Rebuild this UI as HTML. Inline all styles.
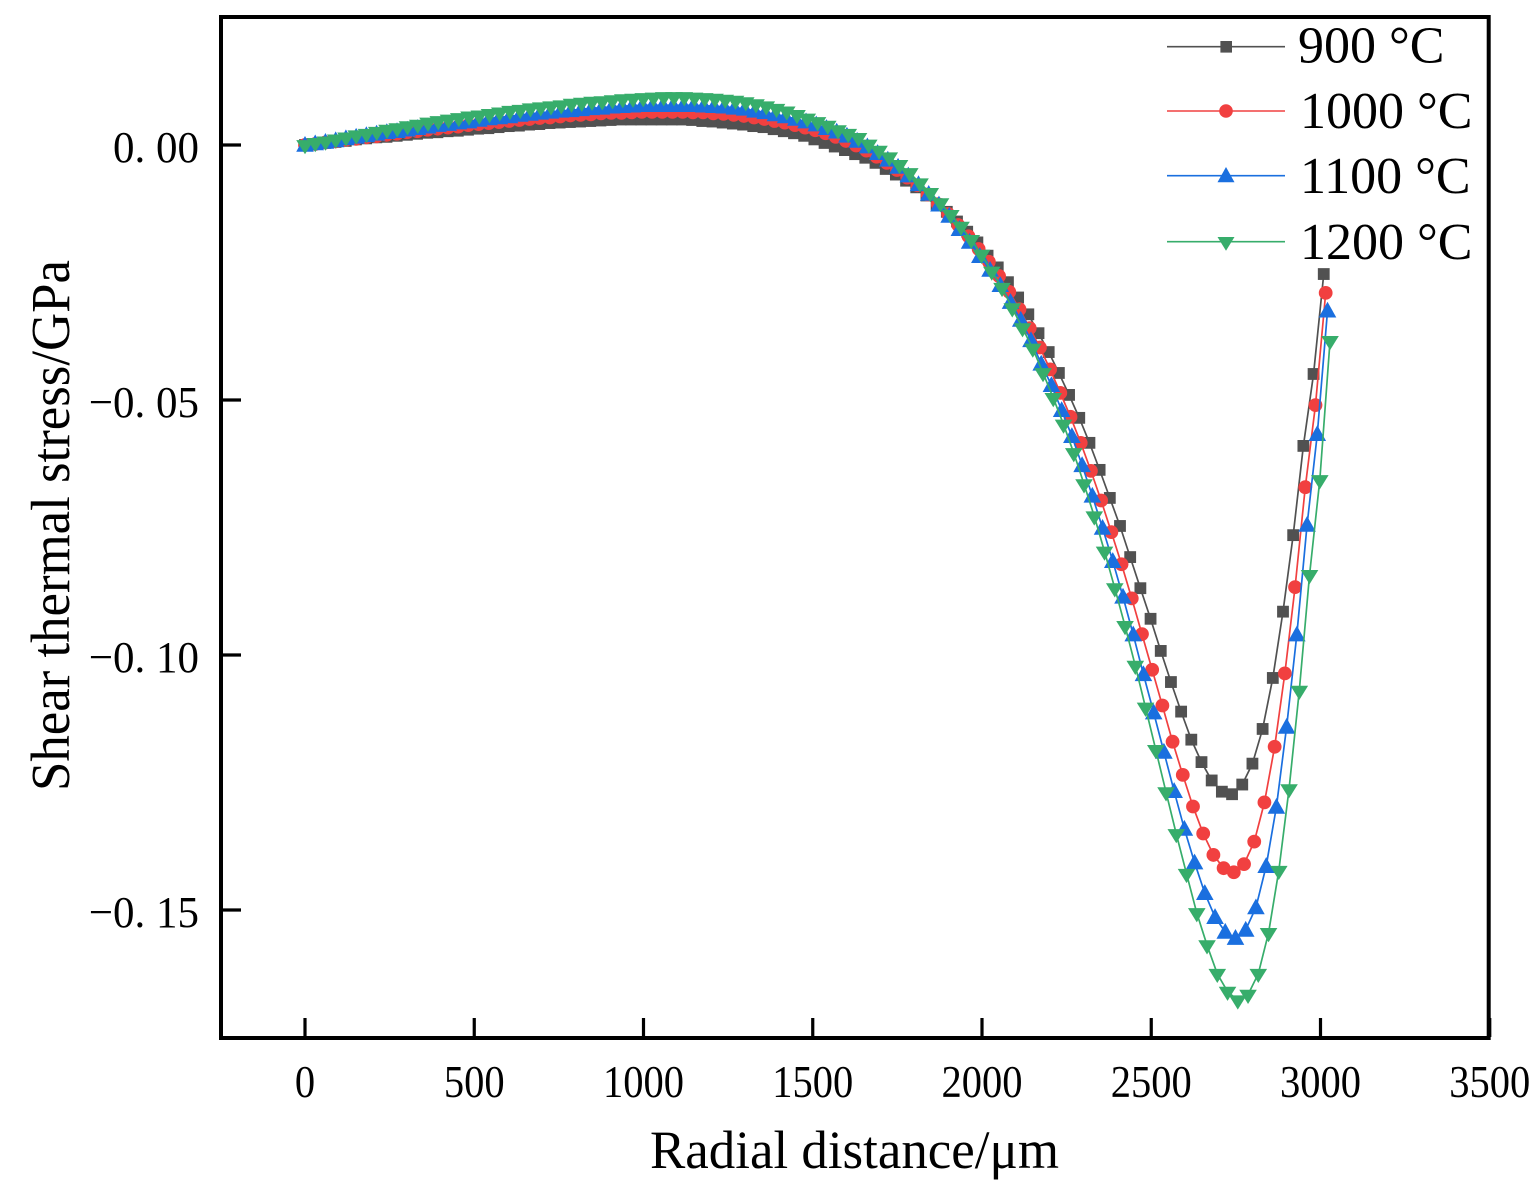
<!DOCTYPE html>
<html lang="en">
<head>
<meta charset="utf-8">
<title>Shear thermal stress vs radial distance</title>
<style>
html,body{margin:0;padding:0;background:#fff;}
svg{display:block;}
text{font-family:"Liberation Serif","Noto Serif CJK SC",serif;fill:#000;}
</style>
</head>
<body>
<svg id="chart" xmlns="http://www.w3.org/2000/svg" width="1537" height="1196" viewBox="0 0 1537 1196">
  <rect x="0" y="0" width="1537" height="1196" fill="#fff"/>
  <g id="series-layer"></g>
  <rect x="221" y="17" width="1267.7" height="1021" fill="none" stroke="#000" stroke-width="4"/>
  <g id="axis-layer"></g>
  <text x="650" y="1168" font-size="54" textLength="409" lengthAdjust="spacingAndGlyphs">Radial distance/μm</text>
  <text transform="translate(69,791) rotate(-90)" x="0" y="0" font-size="55" textLength="531" lengthAdjust="spacingAndGlyphs">Shear thermal stress/GPa</text>
  <g id="legend-layer">
    <g>
      <line x1="1167" x2="1285" y1="46.7" y2="46.7" stroke="#515151" stroke-width="1.6"/>
      <rect x="1220.4" y="41" width="11.6" height="11.6" fill="#515151"/>
      <text x="1298" y="62.7" font-size="52">900 °C</text>
    </g>
    <g>
      <line x1="1167" x2="1285" y1="111" y2="111" stroke="#F14040" stroke-width="1.6"/>
      <circle cx="1226" cy="111" r="6.8" fill="#F14040"/>
      <text x="1300" y="128" font-size="52">1000 °C</text>
    </g>
    <g>
      <line x1="1167" x2="1285" y1="175.7" y2="175.7" stroke="#1A6FDF" stroke-width="1.6"/>
      <polygon points="1226,167 1234.5,182.3 1217.5,182.3" fill="#1A6FDF"/>
      <text x="1300" y="193" font-size="52">1100 °C</text>
    </g>
    <g>
      <line x1="1167" x2="1285" y1="241.7" y2="241.7" stroke="#37AD6B" stroke-width="1.6"/>
      <polygon points="1217.5,237 1234.5,237 1226,250.7" fill="#37AD6B"/>
      <text x="1300" y="259" font-size="52">1200 °C</text>
    </g>
  </g>
</svg>
<script>
const xTicks = [0, 500, 1000, 1500, 2000, 2500, 3000, 3500];
const xTickLabels = ["0", "500", "1000", "1500", "2000", "2500", "3000", "3500"];
const yTicks = [0, -0.05, -0.10, -0.15];
const yTickLabels = ["0. 00", "\u22120. 05", "\u22120. 10", "\u22120. 15"];

const radialNominal = [0,30,60,90,120,150,180,210,240,270,300,330,360,390,420,450,480,510,540,570,600,630,660,690,720,750,780,810,840,870,900,930,960,990,1020,1050,1080,1110,1140,1170,1200,1230,1260,1290,1320,1350,1380,1410,1440,1470,1500,1530,1560,1590,1620,1650,1680,1710,1740,1770,1800,1830,1860,1890,1920,1950,1980,2010,2040,2070,2100,2130,2160,2190,2220,2250,2280,2310,2340,2370,2400,2430,2460,2490,2520,2550,2580,2610,2640,2670,2700,2730,2760,2790,2820,2850,2880,2910,2940,2970,3000];

const stretch900 = 1.0032;
const stretch1000 = 1.0051;
const stretch1100 = 1.0069;
const stretch1200 = 1.0094;

const stress900 = [0,0.0002,0.0004,0.0006,0.0008,0.0011,0.0013,0.0015,0.0016,0.0018,0.0020,0.0022,0.0024,0.0025,0.0027,0.0028,0.0030,0.0032,0.0033,0.0035,0.0037,0.0038,0.0040,0.0041,0.0043,0.0044,0.0045,0.0046,0.0047,0.0048,0.0049,0.0050,0.0050,0.0050,0.0050,0.0050,0.0050,0.0050,0.0049,0.0047,0.0046,0.0044,0.0042,0.0040,0.0037,0.0035,0.0031,0.0027,0.0023,0.0018,0.0011,0.0004,-0.0003,-0.0010,-0.0018,-0.0025,-0.0035,-0.0047,-0.0058,-0.0070,-0.0083,-0.0099,-0.0116,-0.0131,-0.0150,-0.0170,-0.0191,-0.0217,-0.0240,-0.0269,-0.0299,-0.0332,-0.0369,-0.0406,-0.0447,-0.0490,-0.0535,-0.0584,-0.0637,-0.0692,-0.0747,-0.0808,-0.0869,-0.0929,-0.0992,-0.1053,-0.1111,-0.1166,-0.1210,-0.1246,-0.1268,-0.1273,-0.1254,-0.1213,-0.1145,-0.1045,-0.0915,-0.0765,-0.0590,-0.0449,-0.0253];

const stress1000 = [0,0.0002,0.0005,0.0007,0.0010,0.0012,0.0015,0.0017,0.0020,0.0022,0.0025,0.0027,0.0030,0.0032,0.0034,0.0036,0.0039,0.0041,0.0043,0.0045,0.0047,0.0049,0.0051,0.0053,0.0054,0.0056,0.0058,0.0059,0.0060,0.0062,0.0063,0.0063,0.0064,0.0065,0.0065,0.0065,0.0065,0.0065,0.0064,0.0064,0.0062,0.0061,0.0059,0.0057,0.0054,0.0051,0.0047,0.0044,0.0039,0.0034,0.0029,0.0023,0.0016,0.0008,-0.0001,-0.0011,-0.0023,-0.0035,-0.0049,-0.0064,-0.0079,-0.0097,-0.0116,-0.0135,-0.0157,-0.0179,-0.0204,-0.0229,-0.0257,-0.0288,-0.0322,-0.0359,-0.0397,-0.0440,-0.0486,-0.0533,-0.0584,-0.0639,-0.0697,-0.0759,-0.0822,-0.0889,-0.0959,-0.1029,-0.1099,-0.1170,-0.1235,-0.1297,-0.1350,-0.1392,-0.1418,-0.1426,-0.1410,-0.1366,-0.1289,-0.1180,-0.1036,-0.0867,-0.0671,-0.0510,-0.0290];

const stress1100 = [0,0.0003,0.0006,0.0009,0.0013,0.0016,0.0019,0.0022,0.0025,0.0027,0.0030,0.0033,0.0036,0.0039,0.0041,0.0044,0.0046,0.0049,0.0052,0.0054,0.0056,0.0059,0.0061,0.0063,0.0065,0.0067,0.0068,0.0070,0.0072,0.0073,0.0075,0.0076,0.0077,0.0078,0.0078,0.0078,0.0078,0.0078,0.0078,0.0077,0.0076,0.0075,0.0073,0.0071,0.0067,0.0064,0.0060,0.0056,0.0051,0.0046,0.0040,0.0033,0.0026,0.0018,0.0008,-0.0003,-0.0016,-0.0029,-0.0043,-0.0060,-0.0077,-0.0096,-0.0117,-0.0139,-0.0165,-0.0190,-0.0218,-0.0245,-0.0275,-0.0308,-0.0343,-0.0383,-0.0429,-0.0471,-0.0520,-0.0571,-0.0628,-0.0688,-0.0751,-0.0816,-0.0886,-0.0960,-0.1038,-0.1113,-0.1190,-0.1267,-0.1341,-0.1407,-0.1467,-0.1514,-0.1543,-0.1555,-0.1539,-0.1495,-0.1414,-0.1298,-0.1141,-0.0960,-0.0745,-0.0567,-0.0325];

const stress1200 = [0,0.0004,0.0007,0.0011,0.0015,0.0019,0.0022,0.0026,0.0030,0.0033,0.0037,0.0040,0.0044,0.0047,0.0050,0.0053,0.0056,0.0058,0.0061,0.0064,0.0067,0.0069,0.0072,0.0074,0.0076,0.0078,0.0081,0.0083,0.0085,0.0086,0.0088,0.0090,0.0091,0.0092,0.0093,0.0094,0.0094,0.0094,0.0093,0.0092,0.0091,0.0089,0.0087,0.0084,0.0080,0.0076,0.0071,0.0066,0.0059,0.0052,0.0045,0.0038,0.0029,0.0022,0.0014,0.0001,-0.0011,-0.0024,-0.0039,-0.0055,-0.0075,-0.0094,-0.0114,-0.0137,-0.0160,-0.0186,-0.0215,-0.0248,-0.0280,-0.0320,-0.0359,-0.0399,-0.0447,-0.0496,-0.0548,-0.0604,-0.0665,-0.0728,-0.0797,-0.0869,-0.0943,-0.1021,-0.1103,-0.1186,-0.1269,-0.1351,-0.1429,-0.1506,-0.1569,-0.1625,-0.1660,-0.1677,-0.1666,-0.1625,-0.1545,-0.1423,-0.1263,-0.1070,-0.0843,-0.0657,-0.0384];

const SVGNS = "http://www.w3.org/2000/svg";
function xScale(v) { return 305 + v * 0.3385; }
function yScale(v) { return 145 - v * 5100; }
function make(tag, parent) {
  const el = document.createElementNS(SVGNS, tag);
  parent.appendChild(el);
  return el;
}
function condense(textEl, factor) {
  textEl.setAttribute("textLength", (textEl.getComputedTextLength() * factor).toFixed(2));
  textEl.setAttribute("lengthAdjust", "spacingAndGlyphs");
}

const axisLayer = document.getElementById("axis-layer");
xTicks.forEach(function (v, i) {
  const px = xScale(v);
  const t = make("line", axisLayer);
  
  
  t.setAttribute("x1", px);
  t.setAttribute("x2", px);
  t.setAttribute("y1", 1018);
  t.setAttribute("y2", 1037);
  t.setAttribute("stroke", "#000");
  t.setAttribute("stroke-width", "3.2");
  const l = make("text", axisLayer);
  
  
  l.setAttribute("x", px);
  l.setAttribute("y", 1097);
  l.setAttribute("font-size", "45");
  l.setAttribute("text-anchor", "middle");
  l.textContent = xTickLabels[i];
  condense(l, 0.9);
});
yTicks.forEach(function (v, i) {
  const py = yScale(v);
  const t = make("line", axisLayer);
  
  
  t.setAttribute("x1", 222);
  t.setAttribute("x2", 241);
  t.setAttribute("y1", py);
  t.setAttribute("y2", py);
  t.setAttribute("stroke", "#000");
  t.setAttribute("stroke-width", "3.2");
  const l = make("text", axisLayer);
  
  
  l.setAttribute("x", 199);
  l.setAttribute("y", py + 17);
  l.setAttribute("font-size", "44.5");
  l.setAttribute("text-anchor", "end");
  l.setAttribute("xml:space", "preserve");
  l.style.whiteSpace = "pre";
  l.textContent = yTickLabels[i];
  condense(l, 0.966);
});

function drawMarker(kind, cx, cy, color, parent) {
  let m;
  if (kind === "square") {
    m = make("rect", parent);
    m.setAttribute("x", cx - 5.9);
    m.setAttribute("y", cy - 5.9);
    m.setAttribute("width", 11.8);
    m.setAttribute("height", 11.8);
  } else if (kind === "circle") {
    m = make("circle", parent);
    m.setAttribute("cx", cx);
    m.setAttribute("cy", cy);
    m.setAttribute("r", 6.9);
  } else if (kind === "up") {
    m = make("polygon", parent);
    m.setAttribute("points", cx + "," + (cy - 9) + " " + (cx + 8.8) + "," + (cy + 6.8) + " " + (cx - 8.8) + "," + (cy + 6.8));
  } else {
    m = make("polygon", parent);
    m.setAttribute("points", (cx - 8.8) + "," + (cy - 4.9) + " " + (cx + 8.8) + "," + (cy - 4.9) + " " + cx + "," + (cy + 9.3));
  }
  m.setAttribute("fill", color);
  
  
}

function drawSeries(name, values, stretch, color, kind) {
  const layer = document.getElementById("series-layer");
  const g = make("g", layer);
  
  
  const path = make("polyline", g);
  
  
  path.setAttribute("fill", "none");
  path.setAttribute("stroke", color);
  path.setAttribute("stroke-width", "1.7");
  const pts = [];
  values.forEach(function (v, i) {
    pts.push(xScale(radialNominal[i] * stretch).toFixed(2) + "," + yScale(v).toFixed(2));
  });
  path.setAttribute("points", pts.join(" "));
  values.forEach(function (v, i) {
    drawMarker(kind, xScale(radialNominal[i] * stretch), yScale(v), color, g);
  });
}

drawSeries("series-900", stress900, stretch900, "#515151", "square");
drawSeries("series-1000", stress1000, stretch1000, "#F14040", "circle");
drawSeries("series-1100", stress1100, stretch1100, "#1A6FDF", "up");
drawSeries("series-1200", stress1200, stretch1200, "#37AD6B", "down");
</script>
</body>
</html>
